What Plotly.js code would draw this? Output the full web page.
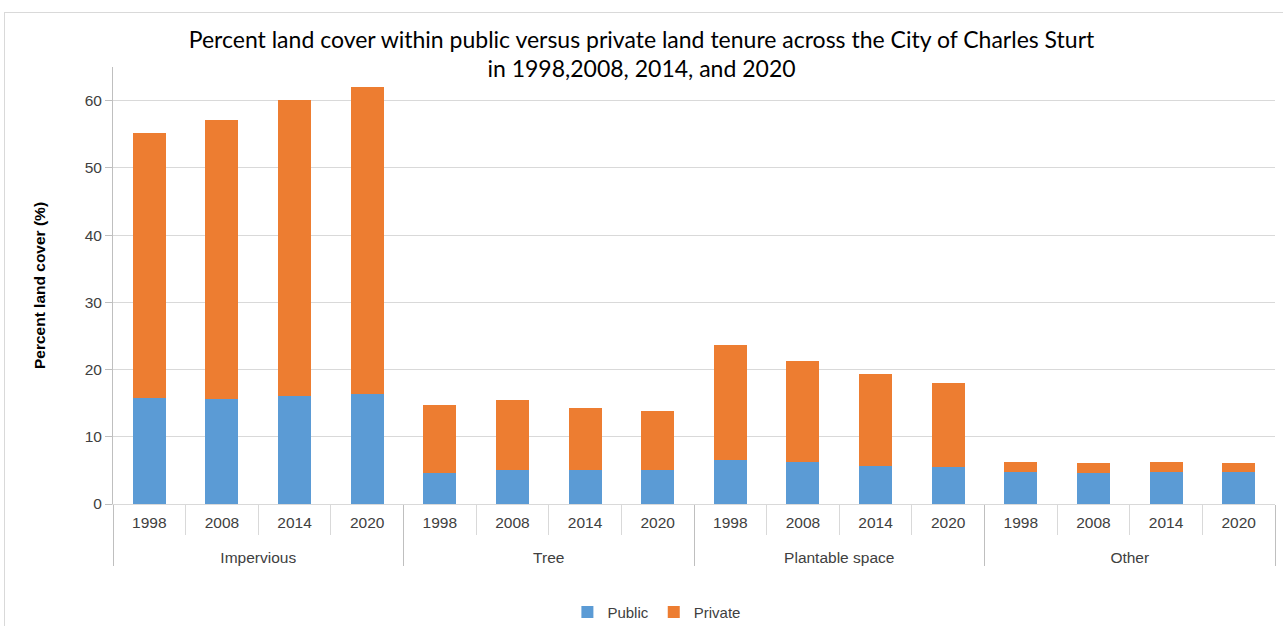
<!DOCTYPE html>
<html>
<head>
<meta charset="utf-8">
<script src="https://cdn.plot.ly/plotly-3.0.1.min.js"></script>
<style>
html,body{margin:0;padding:0;background:#fff;}
#chart{width:1283px;height:626px;}
#frame{position:absolute;left:4px;top:12px;width:1290px;height:640px;border:1px solid #d9d9d9;pointer-events:none;}
</style>
</head>
<body>
<div id="chart"></div>
<div id="frame"></div>
<script>
const groups = ["Impervious", "Tree", "Plantable space", "Other"];
const years = ["1998", "2008", "2014", "2020"];
// % land cover
const publicValues = [15.7, 15.6, 16.1, 16.3,  4.6, 5.1, 5.0, 5.1,  6.5, 6.25, 5.6, 5.5,  4.7, 4.55, 4.75, 4.7];
const privateValues = [39.55, 41.5, 44.0, 45.8,  10.1, 10.4, 9.3, 8.7,  17.1, 14.95, 13.8, 12.5,  1.6, 1.6, 1.5, 1.45];

const xGroup = [], xYear = [];
groups.forEach(g => years.forEach(y => { xGroup.push("<br>" + g); xYear.push(y); }));

const traces = [
  {type: "bar", name: "Public", x: [xGroup, xYear], y: publicValues, marker: {color: "#5b9bd5"}},
  {type: "bar", name: "Private", x: [xGroup, xYear], y: privateValues, marker: {color: "#ed7d31"}}
];

const tickFont = {family: "Liberation Sans, Arial, sans-serif", size: 15.5, color: "#404040"};

const layout = {
  width: 1283, height: 626,
  margin: {l: 113, r: 8, t: 67, b: 122},
  paper_bgcolor: "#fff", plot_bgcolor: "#fff",
  barmode: "stack",
  bargap: 0.545,
  title: {
    text: "Percent land cover within public versus private land tenure across the City of Charles Sturt<br>in 1998,2008, 2014, and 2020",
    font: {family: "Lato, sans-serif", size: 23, color: "#000"},
    x: 0.5, xanchor: "center", y: 0.924, yanchor: "middle"
  },
  xaxis: {
    type: "multicategory", automargin: false,
    showline: true, linecolor: "#d9d9d9", linewidth: 1,
    ticks: "outside", tickson: "boundaries", ticklen: 30, tickcolor: "#d9d9d9",
    ticklabelstandoff: 4,
    showdividers: true, dividercolor: "#bfbfbf", dividerwidth: 1,
    tickfont: tickFont,
    showgrid: false
  },
  yaxis: {
    range: [0, 65], dtick: 10, automargin: false,
    showline: true, linecolor: "#bfbfbf", linewidth: 1,
    ticks: "outside", ticklen: 7, tickcolor: "#bfbfbf",
    gridcolor: "#d9d9d9", gridwidth: 1, zeroline: false,
    tickfont: tickFont,
    title: {text: "<b>Percent land cover (%)</b>", font: {family: "Liberation Sans, Arial, sans-serif", size: 15.5, color: "#000"}, standoff: 35}
  },
  legend: {
    orientation: "h", traceorder: "normal",
    xref: "container", yref: "container",
    x: 0.512, xanchor: "center", y: 0.022, yanchor: "middle",
    font: {family: "Liberation Sans, Arial, sans-serif", size: 15, color: "#404040"},
    itemwidth: 30
  },
  showlegend: true
};

Plotly.newPlot("chart", traces, layout, {displayModeBar: false, staticPlot: true});
</script>
</body>
</html>
